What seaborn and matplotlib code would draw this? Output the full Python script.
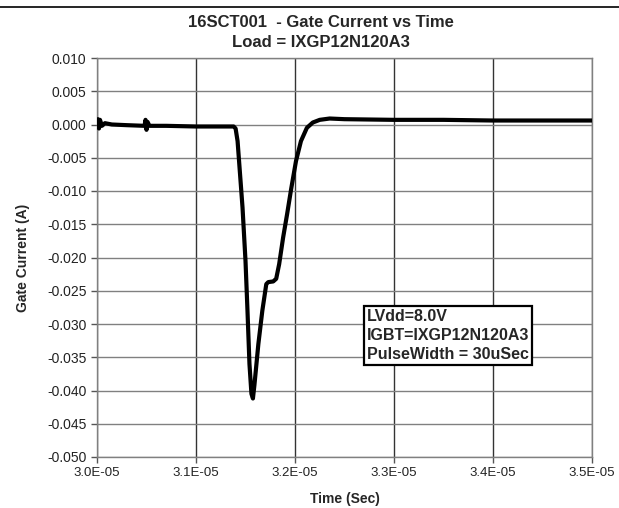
import matplotlib
matplotlib.use("Agg")
import matplotlib.pyplot as plt
import seaborn as sns
import pandas as pd
import numpy as np
from matplotlib.ticker import FixedLocator, FuncFormatter

# offsets in microseconds after 30 us
time_us = [0.00, 0.01, 0.02, 0.03, 0.05, 0.08, 0.15, 0.30, 0.48, 0.49, 0.50, 0.51, 0.53,
           0.70, 1.00, 1.20, 1.38, 1.40, 1.42, 1.44, 1.47, 1.50, 1.52, 1.54, 1.56, 1.575,
           1.59, 1.63, 1.67, 1.71, 1.73, 1.78, 1.81, 1.84, 1.88, 1.92, 1.96, 2.01, 2.06,
           2.12, 2.18, 2.25, 2.35, 2.50, 3.00, 3.50, 4.00, 4.50, 5.00]
current_a = [0.0000, 0.0008, -0.0006, 0.0007, -0.0002, 0.0002, 0.0000, -0.0001, -0.0002,
             0.0007, -0.0008, 0.0004, -0.0002, -0.0002, -0.0003, -0.0003, -0.0003, -0.0006,
             -0.0025, -0.0065, -0.0125, -0.0205, -0.0280, -0.0360, -0.0405, -0.0412,
             -0.0392, -0.0330, -0.0280, -0.0240, -0.0237, -0.0236, -0.0232, -0.0210,
             -0.0170, -0.0135, -0.0098, -0.0055, -0.0025, -0.0005, 0.0003, 0.0007, 0.0009,
             0.0008, 0.0007, 0.0007, 0.0006, 0.0006, 0.0006]

x_ticks = [3.0e-5, 3.1e-5, 3.2e-5, 3.3e-5, 3.4e-5, 3.5e-5]
x_tick_labels = ["3.0E-05", "3.1E-05", "3.2E-05", "3.3E-05", "3.4E-05", "3.5E-05"]
y_ticks = [0.010, 0.005, 0.000, -0.005, -0.010, -0.015, -0.020, -0.025, -0.030,
           -0.035, -0.040, -0.045, -0.050]

df = pd.DataFrame({"t": [3.0e-5 + v * 1e-6 for v in time_us], "i": current_a})

sns.set_style("white")
plt.rcParams["font.family"] = ["Liberation Sans", "DejaVu Sans"]

fig = plt.figure(figsize=(6.19, 5.08), dpi=100)
ax = fig.add_axes([97 / 619, 1 - 457 / 508, (592 - 97) / 619, (457 - 58) / 508])

sns.lineplot(data=df, x="t", y="i", ax=ax, color="black", linewidth=3.0, zorder=3)

ax.set_xlim(3.0e-5, 3.5e-5)
ax.set_ylim(-0.050, 0.010)
ax.xaxis.set_major_locator(FixedLocator(x_ticks))
ax.set_xticklabels(x_tick_labels)
ax.yaxis.set_major_locator(FixedLocator(y_ticks))
ax.yaxis.set_major_formatter(FuncFormatter(lambda v, p: f"{v:.3f}"))
ax.tick_params(axis="both", labelsize=9.5, length=4, width=1, direction="out",
               left=True, bottom=True, color="#555555")
ax.tick_params(axis="y", labelsize=10)
for lbl in ax.get_xticklabels() + ax.get_yticklabels():
    lbl.set_color("#222222")

ax.grid(True, axis="y", color="#808080", linewidth=1.0)
ax.grid(True, axis="x", color="#333333", linewidth=1.0)
ax.set_axisbelow(True)
for s in ax.spines.values():
    s.set_color("#808080")
    s.set_linewidth(1.0)

ax.set_xlabel("Time (Sec)", fontsize=10, fontweight="bold", labelpad=9)
ax.set_ylabel("Gate Current (A)", fontsize=10, fontweight="bold", labelpad=12)
ax.set_title("16SCT001  - Gate Current vs Time\nLoad = IXGP12N120A3", fontsize=12,
             fontweight="bold", pad=8, linespacing=1.4, x=(321 - 97) / 495)

ax.text(0.545, 0.37, "LVdd=8.0V\nIGBT=IXGP12N120A3\nPulseWidth = 30uSec",
        transform=ax.transAxes, fontsize=11.5, fontweight="bold", va="top", ha="left",
        linespacing=1.3,
        bbox=dict(boxstyle="square,pad=0.2", facecolor="white", edgecolor="black", linewidth=1.6),
        zorder=5)

fig.add_artist(plt.Line2D([0, 1], [1 - 7 / 508, 1 - 7 / 508], color="black", linewidth=1.2,
                          transform=fig.transFigure))

fig.savefig("out.png", dpi=100)
